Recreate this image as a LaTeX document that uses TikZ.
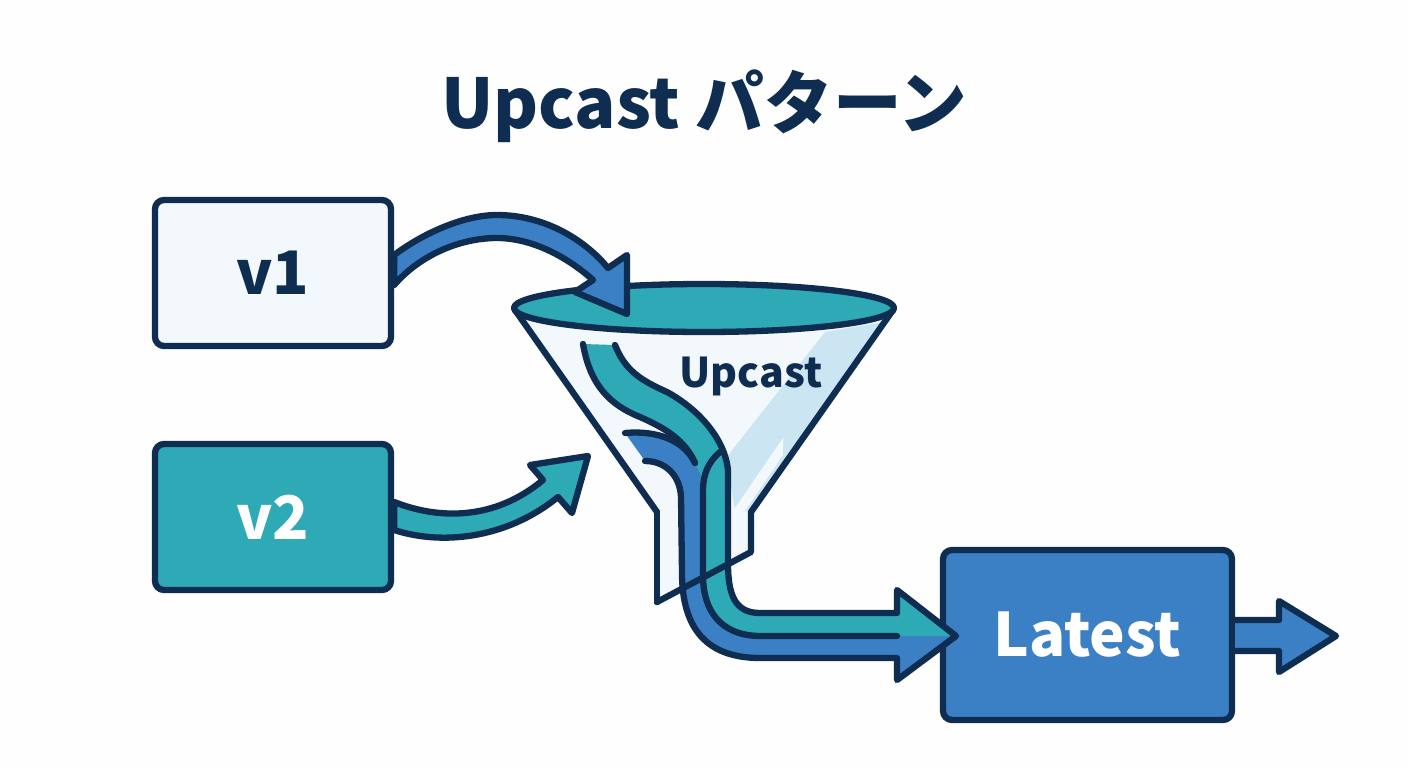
\documentclass[tikz,border=0pt]{standalone}
\usepackage{fontspec}
\setmainfont{Noto Sans CJK JP}
\definecolor{ink}{HTML}{0F2D50}
\definecolor{tealc}{HTML}{2EA9B6}
\definecolor{bluec}{HTML}{3B7FC4}
\definecolor{pale}{HTML}{F3F8FD}
\definecolor{glass}{HTML}{CBE6F2}
\definecolor{paper}{HTML}{FEFEFE}
\tikzset{
  outline/.style={draw=ink,line width=6.3pt,line join=round,line cap=round},
  vbox/.style={outline,rounded corners=9pt,minimum width=236pt,minimum height=146pt,inner sep=0pt,font=\bfseries\fontsize{60}{60}\selectfont},
}
\begin{document}
\begin{tikzpicture}[x=1pt,y=-1pt]
\useasboundingbox (0,0) rectangle (1408,768);
\fill[paper] (0,0) rectangle (1408,768);
\node[text=ink,font=\bfseries\fontsize{68.6}{68.6}\selectfont] (title) at (704,106) {Upcast パターン};
% boxes
\node[vbox,fill=pale,text=ink] (v1) at (273,273) {v1};
\node[vbox,fill=tealc,text=white] (v2) at (273,517) {v2};
\node[vbox,fill=bluec,text=white,minimum width=289pt,minimum height=170pt,font=\bfseries\fontsize{60}{60}\selectfont] (latest) at (1087.5,635) {Latest};
% funnel body
\coordinate (fl) at (515,310);
\coordinate (fr) at (893,310);
\coordinate (nl) at (657,512);
\coordinate (nr) at (751,512);
\coordinate (bl) at (657,602);
\coordinate (br) at (751,552);
\fill[pale] (fl) -- (nl) -- (bl) -- (br) -- (nr) -- (fr) -- cycle;
\fill[glass] (825,332) -- (884,322) -- (751,512) -- (735,510) -- (726,458) -- cycle;
\fill[pale] (783,438) -- (783,455) -- (745,511) -- (733,511) -- cycle;
\draw[outline] (nl) -- (bl);
% streams
\fill[bluec] (625,433) .. controls (660,430) and (685,442) .. (695,463) -- (705,482) -- (703,575)
  .. controls (703,620) and (730,636) .. (760,636) -- (956,636) -- (897,680) -- (897,658) -- (760,658)
  .. controls (708,658) and (682,630) .. (682,573) -- (681,497)
  .. controls (680,475) and (665,461) .. (645,461) -- cycle;
\fill[tealc] (583,344) .. controls (590,385) and (610,405) .. (640,417)
  .. controls (665,428) and (685,440) .. (695,463) -- (705,482) -- (703,575)
  .. controls (703,620) and (730,636) .. (760,636) -- (956,636) -- (897,590) -- (897,613) -- (760,613)
  .. controls (735,613) and (728,595) .. (728,563) -- (728,470)
  .. controls (725,440) and (700,410) .. (667,392)
  .. controls (640,380) and (625,370) .. (615,345) -- cycle;
\draw[outline] (583,344) .. controls (590,385) and (610,405) .. (640,417)
  .. controls (665,428) and (685,440) .. (695,463);
\draw[outline] (615,345) .. controls (625,370) and (640,380) .. (667,392)
  .. controls (700,410) and (725,440) .. (728,470) -- (728,563)
  .. controls (728,595) and (735,613) .. (760,613) -- (897,613) -- (897,590) -- (956,636) -- (897,680) -- (897,658) -- (760,658)
  .. controls (708,658) and (682,630) .. (682,573) -- (681,497)
  .. controls (680,475) and (665,461) .. (645,461);
\draw[outline] (720,452) .. controls (708,462) and (703,475) .. (703,490) -- (703,575)
  .. controls (703,620) and (730,636) .. (760,636) -- (897,636);
\draw[outline] (625,433) .. controls (660,430) and (685,442) .. (695,463);
% funnel outlines over streams
\draw[outline] (fl) -- (nl);
\draw[outline] (fr) -- (nr) -- (br) -- (bl);
\node[text=ink,font=\bfseries\fontsize{41}{41}\selectfont,inner sep=0pt] (uplabel) at (751,376) {Upcast};
\draw[outline,fill=tealc] (704,308) ellipse [x radius=190pt,y radius=24pt];
% v1 arrow
\coordinate (a1) at ([yshift=18pt]v1.east);
\coordinate (a2) at ([yshift=-12pt]v1.east);
\draw[outline,fill=bluec] (a1) .. controls (425,232) and (465,215) .. (497,215)
  .. controls (545,215) and (585,240) .. (608,268) -- (627,255) -- (627,314) -- (575,292) -- (593,280)
  .. controls (565,255) and (530,238) .. (497,238)
  .. controls (460,238) and (420,255) .. (a2) -- cycle;
% v2 arrow
\coordinate (b1) at ([yshift=15pt]v2.east);
\coordinate (b2) at ([yshift=-13pt]v2.east);
\draw[outline,fill=tealc] (b1) .. controls (440,520) and (495,520) .. (543,480) -- (530,465) -- (588,456) -- (572,513) -- (558,497)
  .. controls (505,540) and (440,545) .. (b2) -- cycle;
% exit arrow
\coordinate (c1) at ([yshift=15pt]latest.east);
\coordinate (c2) at ([yshift=-16pt]latest.east);
\draw[outline,fill=bluec] (c1) -- (1279,620) -- (1279,601) -- (1336,636) -- (1279,672) -- (1279,651) -- (c2);
\end{tikzpicture}
\end{document}
